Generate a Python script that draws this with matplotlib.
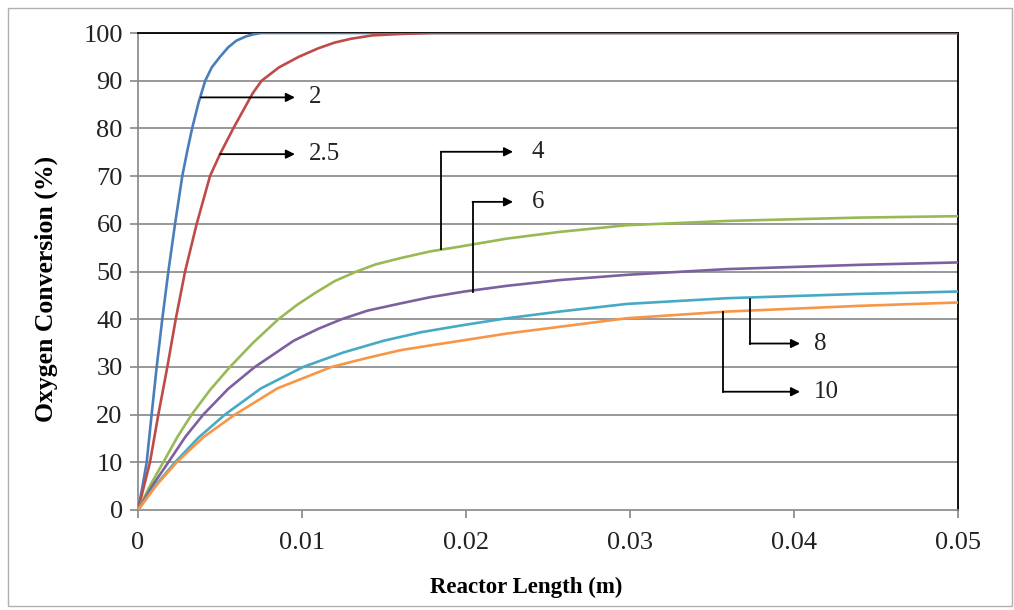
import matplotlib
matplotlib.use("Agg")
import matplotlib.pyplot as plt
from matplotlib.patches import Rectangle

# --- data ---
x_2 = [0, 0.00025, 0.00053, 0.00083, 0.00114, 0.00148, 0.00185, 0.00226, 0.0027,
       0.0030, 0.0033, 0.0037, 0.0041, 0.0045, 0.0050, 0.0055, 0.0060, 0.0066,
       0.0070, 0.0075, 0.05]
y_2 = [0, 4.5, 10, 20, 30, 40, 50, 60, 70, 75.2, 80, 85.5, 90, 92.8, 95, 97, 98.4,
       99.3, 99.7, 100, 100]

x_25 = [0, 0.00035, 0.00073, 0.00124, 0.00179, 0.0023, 0.00287, 0.00358, 0.00439,
        0.0050, 0.00581, 0.0065, 0.0070, 0.00754, 0.0086, 0.0098, 0.0110, 0.0120,
        0.0130, 0.0143, 0.0160, 0.018, 0.05]
y_25 = [0, 4.8, 10, 20, 30, 40, 50, 60, 70, 74.6, 80, 84.3, 87.4, 90, 92.8, 95,
        96.8, 98, 98.8, 99.5, 99.8, 100, 100]

x_4 = [0, 0.00075, 0.00154, 0.0024, 0.00327, 0.0044, 0.00561, 0.0070, 0.00856,
       0.0097, 0.0108, 0.0120, 0.01333, 0.0145, 0.0160, 0.0178, 0.0196, 0.0225,
       0.0257, 0.0298, 0.0359, 0.044, 0.05]
y_4 = [0, 5.2, 10, 15.3, 20, 25.2, 30, 35, 40, 43, 45.5, 48, 50, 51.5, 52.8, 54.2,
       55.2, 56.9, 58.3, 59.7, 60.6, 61.3, 61.6]

x_6 = [0, 0.0009, 0.00185, 0.0029, 0.00398, 0.0055, 0.00713, 0.0095, 0.0110,
       0.01242, 0.0140, 0.0160, 0.0178, 0.0199, 0.0225, 0.0257, 0.0298, 0.0359,
       0.044, 0.05]
y_6 = [0, 5.2, 10, 15.4, 20, 25.4, 30, 35.5, 38, 40, 41.8, 43.3, 44.6, 45.8, 47,
       48.2, 49.3, 50.5, 51.4, 51.9]

x_8 = [0, 0.0011, 0.00226, 0.0037, 0.0053, 0.0075, 0.01008, 0.0125, 0.0150,
       0.0173, 0.0199, 0.0225, 0.0257, 0.0298, 0.0359, 0.044, 0.05]
y_8 = [0, 5.3, 10, 15.2, 20, 25.5, 30, 33, 35.5, 37.3, 38.8, 40.2, 41.6, 43.2,
       44.4, 45.3, 45.8]

x_10 = [0, 0.00115, 0.00236, 0.0040, 0.00591, 0.0085, 0.01181, 0.0140, 0.0160,
        0.0180, 0.0199, 0.0225, 0.0257, 0.0298, 0.0359, 0.044, 0.05]
y_10 = [0, 5.3, 10, 15.3, 20, 25.5, 30, 31.9, 33.5, 34.6, 35.6, 37, 38.4, 40.2,
        41.6, 42.8, 43.5]

series = [
    (x_2, y_2, "#4A7EBB"),
    (x_25, y_25, "#BE4B48"),
    (x_4, y_4, "#98B954"),
    (x_6, y_6, "#7D60A0"),
    (x_8, y_8, "#46AAC5"),
    (x_10, y_10, "#F79646"),
]

# callouts: label, point on curve, elbow y, arrow tip x, label x
labels = ["2", "2.5", "4", "6", "8", "10"]
curve_x = [0.00384, 0.0050, 0.01846, 0.0204, 0.0373, 0.0357]
curve_y = [86.5, 74.6, 54.7, 45.8, 44.2, 41.6]
elbow_y = [86.5, 74.6, 75.1, 64.6, 34.9, 24.8]
tip_x = [0.00957, 0.00957, 0.02287, 0.02287, 0.04037, 0.04037]
text_x = [0.0104, 0.0104, 0.0240, 0.0240, 0.0412, 0.0412]

plt.rcParams["font.family"] = ["Liberation Serif", "DejaVu Serif"]

fig = plt.figure(figsize=(10.14, 6.10), dpi=100)
ax = fig.add_axes([138 / 1014, 100 / 610, 820 / 1014, 477 / 610])

fig.patches.append(Rectangle((8 / 1014, 4 / 610), 1004 / 1014, 598 / 610,
                             transform=fig.transFigure, fill=False,
                             edgecolor="#B0B0B0", linewidth=1))

grid_c = "#868686"
for yv in range(10, 101, 10):
    ax.axhline(yv, color=grid_c, linewidth=1.2, zorder=1)

for xs, ys, c in series:
    ax.plot(xs, ys, color=c, linewidth=1.9, zorder=3, solid_joinstyle="round")

for lab, cx, cy, ey, tx, lx in zip(labels, curve_x, curve_y, elbow_y, tip_x, text_x):
    if ey != cy:
        ax.plot([cx, cx], [cy, ey], color="black", linewidth=1.3, zorder=4)
    ax.annotate("", xy=(tx, ey), xytext=(cx, ey),
                arrowprops=dict(arrowstyle="-|>", color="black", lw=1.3,
                                mutation_scale=13, shrinkA=0, shrinkB=0),
                zorder=4)
    ax.text(lx, ey, lab, fontsize=18, va="center", ha="left", color="#222222")

ax.set_xlim(0, 0.05)
ax.set_ylim(0, 100)
ax.set_xticks([0, 0.01, 0.02, 0.03, 0.04, 0.05])
ax.set_xticklabels(["0", "0.01", "0.02", "0.03", "0.04", "0.05"])
ax.set_yticks(range(0, 101, 10))
ax.tick_params(axis="both", labelsize=19, color=grid_c, length=6, width=1.2,
               direction="out", labelcolor="#222222")
ax.tick_params(axis="x", pad=10)
ax.tick_params(axis="y", pad=5)

ax.spines["left"].set_color(grid_c)
ax.spines["bottom"].set_color(grid_c)
ax.spines["left"].set_linewidth(1.2)
ax.spines["bottom"].set_linewidth(1.2)
ax.spines["right"].set_color("black")
ax.spines["top"].set_color("black")
ax.spines["right"].set_linewidth(1.3)
ax.spines["top"].set_linewidth(1.3)

ax.set_xlabel("Reactor Length (m)", fontsize=16.5, fontweight="bold")
ax.set_ylabel("Oxygen Conversion (%)", fontsize=18.5, fontweight="bold")
ax.xaxis.set_label_coords((526 - 138) / 820, -(577 - 510) / 477)
ax.yaxis.set_label_coords((58 - 138) / 820, (510 - 289) / 477)

fig.savefig("out.png", dpi=100)
